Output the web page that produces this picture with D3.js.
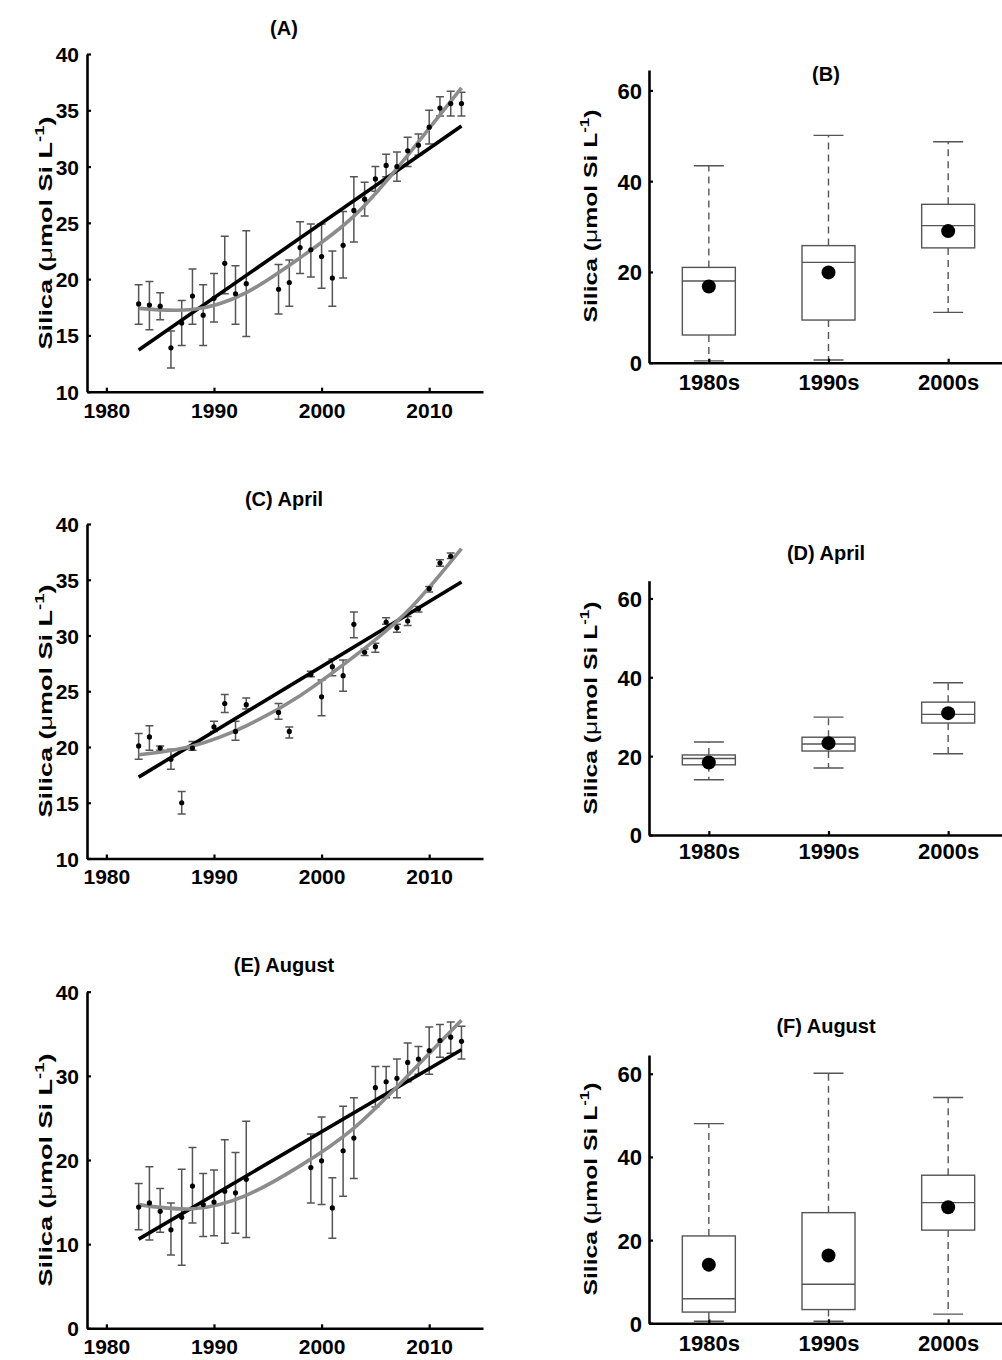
<!DOCTYPE html>
<html>
<head>
<meta charset="utf-8">
<script src="https://cdn.jsdelivr.net/npm/d3@7"></script>
<style>
  body { margin: 0; background: #fff; }
  svg { display: block; font-family: "Liberation Sans", Arial, sans-serif; }
</style>
</head>
<body>
<div id="chart"></div>
<script>
"use strict";

// ---- trend panels: yearly mean with error bars ----
var yearsA = [1983,1984,1985,1986,1987,1988,1989,1990,1991,1992,1993,1996,1997,1998,1999,2000,2001,2002,2003,2004,2005,2006,2007,2008,2009,2010,2011,2012,2013];
var meanA  = [17.8,17.7,17.6,13.9,16.1,18.5,16.8,18.3,21.4,18.7,19.6,19.1,19.7,22.8,22.6,22.0,20.1,23.0,26.1,27.1,28.9,30.1,30.0,31.4,31.9,33.5,35.2,35.6,35.6];
var upperA = [19.5,19.8,18.8,15.4,18.1,20.9,19.5,20.5,23.8,21.2,24.3,21.3,21.7,25.1,24.9,24.9,22.5,26.0,29.1,28.6,30.0,31.1,31.3,32.6,32.9,35.0,36.2,36.7,36.6];
var lowerA = [16.0,15.5,16.4,12.1,14.1,16.0,14.1,16.2,18.7,16.0,14.9,16.9,17.6,20.5,20.2,19.2,17.6,20.1,23.3,25.6,27.8,29.1,28.7,30.0,31.0,32.0,34.5,34.5,34.5];

var yearsC = [1983,1984,1985,1986,1987,1988,1990,1991,1992,1993,1996,1997,1999,2000,2001,2002,2003,2004,2005,2006,2007,2008,2009,2010,2011,2012];
var meanC  = [20.1,20.9,19.9,18.9,15.0,19.9,21.8,23.9,21.4,23.8,23.1,21.4,26.5,24.5,27.2,26.4,31.0,28.5,29.0,31.2,30.7,31.3,32.4,34.2,36.5,37.1];
var upperC = [21.2,21.9,20.1,19.8,16.0,20.5,22.3,24.7,22.3,24.4,23.9,21.8,26.8,26.0,27.9,27.8,32.1,28.8,29.3,31.6,31.0,31.7,32.6,34.4,36.8,37.4];
var lowerC = [18.9,19.7,19.7,18.0,14.0,19.7,21.4,23.1,20.6,23.4,22.5,20.8,26.3,22.8,26.4,25.0,29.8,28.2,28.5,31.0,30.3,30.9,32.1,33.9,36.2,36.9];

var yearsE = [1983,1984,1985,1986,1987,1988,1989,1990,1991,1992,1993,1999,2000,2001,2002,2003,2005,2006,2007,2008,2009,2010,2011,2012,2013];
var meanE  = [14.4,14.9,13.9,11.7,13.2,16.9,14.7,15.0,16.3,16.1,17.7,19.1,19.9,14.3,21.1,22.6,28.6,29.3,29.7,31.6,32.0,33.0,34.2,34.6,34.1];
var upperE = [17.2,19.2,16.6,14.9,18.9,21.5,18.4,18.8,22.4,20.9,24.6,23.1,25.1,17.9,26.4,27.4,31.1,31.1,32.0,33.9,33.5,35.8,36.1,36.4,35.9];
var lowerE = [11.7,10.5,11.4, 8.7, 7.5,12.5,10.9,11.0,10.1,11.3,10.8,14.9,14.7,10.7,15.7,17.8,26.3,27.4,27.4,29.3,30.2,30.2,32.2,32.7,32.0];

// fitted lines (linear: end points, quadratic: every 5 years)
var linYears  = [1983, 2013];
var linA = [13.7, 33.6];
var linC = [17.3, 34.8];
var linE = [10.6, 33.1];
var quadYears = [1983, 1988, 1993, 1998, 2003, 2008, 2013];
var quadA = [17.4, 17.3, 18.8, 21.9, 25.6, 31.0, 37.0];
var quadC = [19.3, 20.1, 21.9, 24.6, 28.1, 32.2, 37.8];
var quadE = [14.7, 14.2, 15.8, 19.3, 23.8, 30.0, 36.6];

var yearTicks = [1980, 1990, 2000, 2010];

// ---- box panels by decade ----
var decades = ["1980s", "1990s", "2000s"];
var hiB  = [43.4, 50.1, 48.7], q3B = [21.0, 25.8, 34.9], medB = [18.0, 22.1, 30.2];
var q1B  = [6.1, 9.4, 25.3],   loB = [0.4, 0.6, 11.1],   avgB = [16.8, 19.9, 29.0];
var hiD  = [23.6, 29.9, 38.6], q3D = [20.3, 24.8, 33.7], medD = [19.4, 23.1, 30.6];
var q1D  = [17.8, 21.3, 28.4], loD = [14.0, 17.0, 20.6], avgD = [18.4, 23.3, 30.9];
var hiF  = [48.0, 60.1, 54.3], q3F = [21.0, 26.6, 35.6], medF = [5.9, 9.4, 29.0];
var q1F  = [2.7, 3.3, 22.4],   loF = [0.5, 0.5, 2.2],    avgF = [14.1, 16.3, 27.9];

var W = 1002, H = 1360;
var svg = d3.select("#chart").append("svg")
            .attr("width", W).attr("height", H);

var grey = "#555";

function ylabel(g, x, cy, len) {
  var t = g.append("text")
           .attr("transform", "translate(" + x + "," + cy + ") rotate(-90)")
           .attr("text-anchor", "middle")
           .attr("font-size", 19)
           .attr("font-weight", "bold")
           .attr("textLength", len)
           .attr("lengthAdjust", "spacingAndGlyphs");
  t.append("tspan").text("Silica (");
  t.append("tspan").attr("font-weight", "normal").text("\u03bc");
  t.append("tspan").text("mol Si L");
  t.append("tspan").attr("font-size", 13).attr("dy", -8).text("-1");
  t.append("tspan").attr("dy", 8).text(")");
}

function title(x, y, s) {
  svg.append("text")
     .attr("x", x).attr("y", y)
     .attr("text-anchor", "middle")
     .attr("font-size", 20)
     .attr("font-weight", "bold")
     .text(s);
}

function styleAxis(g, fs) {
  g.select(".domain").attr("stroke", "#000").attr("stroke-width", 2.6);
  g.selectAll(".tick line").attr("stroke", "#000").attr("stroke-width", 2.2);
  g.selectAll(".tick text").attr("font-size", fs).attr("font-weight", "bold")
   .attr("fill", "#000").attr("font-family", "Liberation Sans, Arial, sans-serif");
}

function trendPanel(p) {
  var x = d3.scaleLinear().domain([1978.2, 2015]).range([87, 483]);
  var y = d3.scaleLinear().domain(p.ydom).range([p.bottom, p.top]);
  var g = svg.append("g");

  var xa = g.append("g").attr("transform", "translate(0," + p.bottom + ")")
            .call(d3.axisBottom(x).tickValues(yearTicks).tickFormat(d3.format("d"))
                    .tickSizeInner(-4).tickSizeOuter(0).tickPadding(11));
  styleAxis(xa, 21);
  var ya = g.append("g").attr("transform", "translate(87,0)")
            .call(d3.axisLeft(y).tickValues(p.yticks)
                    .tickSizeInner(-4).tickSizeOuter(0).tickPadding(8));
  styleAxis(ya, 21);
  ya.selectAll(".tick text").attr("dy", "0.36em");

  var rows = p.years.map(function(d, i){
    return {t: d, m: p.mean[i], hi: p.upper[i], lo: p.lower[i]};
  });

  var bars = g.append("g").attr("stroke", grey).attr("stroke-width", 1.5).attr("fill", "none");
  bars.selectAll("path").data(rows).enter().append("path")
      .attr("d", function(d){
        var cx = x(d.t), yh = y(d.hi), yl = y(d.lo);
        return "M" + cx + "," + yh + "V" + yl +
               "M" + (cx - 4) + "," + yh + "H" + (cx + 4) +
               "M" + (cx - 4) + "," + yl + "H" + (cx + 4);
      });

  var line = d3.line().x(function(d){ return x(d[0]); }).y(function(d){ return y(d[1]); });

  g.append("path")
   .datum(linYears.map(function(t, i){ return [t, p.lin[i]]; }))
   .attr("d", line)
   .attr("fill", "none").attr("stroke", "#000").attr("stroke-width", 3.6);

  g.append("path")
   .datum(quadYears.map(function(t, i){ return [t, p.quad[i]]; }))
   .attr("d", line.curve(d3.curveNatural))
   .attr("fill", "none").attr("stroke", "#8c8c8c").attr("stroke-width", 3.6);

  g.append("g").selectAll("circle").data(rows).enter().append("circle")
   .attr("cx", function(d){ return x(d.t); })
   .attr("cy", function(d){ return y(d.m); })
   .attr("r", 2.6).attr("fill", "#000");

  ylabel(g, 52, p.labelY, 233);
  title(284, p.titleY, p.title);
}

function boxPanel(p) {
  var x = d3.scaleLinear().domain([0.5, 3.5]).range([649, 1008]);
  var y = d3.scaleLinear().domain([0, 64.5]).range([p.bottom, p.top]);
  var g = svg.append("g");
  var bw = 53, cw = 30;

  var rows = decades.map(function(d, i){
    return {k: i + 1, hi: p.hi[i], q3: p.q3[i], med: p.med[i], q1: p.q1[i], lo: p.lo[i], avg: p.avg[i]};
  });

  var b = g.append("g").selectAll("g").data(rows).enter().append("g")
           .attr("stroke", grey).attr("stroke-width", 1.4).attr("fill", "none");
  b.append("path")
   .attr("stroke-dasharray", "7,5")
   .attr("d", function(d){
     var cx = x(d.k);
     return "M" + cx + "," + y(d.q3) + "V" + y(d.hi) + "M" + cx + "," + y(d.q1) + "V" + y(d.lo);
   });
  b.append("path")
   .attr("d", function(d){
     var cx = x(d.k);
     return "M" + (cx - cw / 2) + "," + y(d.hi) + "H" + (cx + cw / 2) +
            "M" + (cx - cw / 2) + "," + y(d.lo) + "H" + (cx + cw / 2) +
            "M" + (cx - bw / 2) + "," + y(d.med) + "H" + (cx + bw / 2);
   });
  b.append("rect")
   .attr("x", function(d){ return x(d.k) - bw / 2; })
   .attr("y", function(d){ return y(d.q3); })
   .attr("width", bw)
   .attr("height", function(d){ return y(d.q1) - y(d.q3); });
  b.append("circle")
   .attr("cx", function(d){ return x(d.k); })
   .attr("cy", function(d){ return y(d.avg); })
   .attr("r", 7).attr("fill", "#000").attr("stroke", "none");

  var xa = g.append("g").attr("transform", "translate(0," + p.bottom + ")")
            .call(d3.axisBottom(x).tickValues([1, 2, 3])
                    .tickFormat(function(d){ return decades[d - 1]; })
                    .tickSizeInner(-4).tickSizeOuter(0).tickPadding(p.xpad));
  styleAxis(xa, 22);
  var ya = g.append("g").attr("transform", "translate(649,0)")
            .call(d3.axisLeft(y).tickValues([0, 20, 40, 60])
                    .tickSizeInner(-4).tickSizeOuter(0).tickPadding(7));
  styleAxis(ya, 22);
  ya.selectAll(".tick text").attr("dy", "0.36em");

  ylabel(g, 597, p.labelY, 213);
  title(826, p.titleY, p.title);
}

trendPanel({years: yearsA, mean: meanA, upper: upperA, lower: lowerA, lin: linA, quad: quadA,
            ydom: [10, 40], yticks: [10, 15, 20, 25, 30, 35, 40],
            top: 54, bottom: 391.7, labelY: 233, titleY: 35, title: "(A)"});
trendPanel({years: yearsC, mean: meanC, upper: upperC, lower: lowerC, lin: linC, quad: quadC,
            ydom: [10, 40], yticks: [10, 15, 20, 25, 30, 35, 40],
            top: 524, bottom: 858.5, labelY: 701, titleY: 506, title: "(C) April"});
trendPanel({years: yearsE, mean: meanE, upper: upperE, lower: lowerE, lin: linE, quad: quadE,
            ydom: [0, 40], yticks: [0, 10, 20, 30, 40],
            top: 991.7, bottom: 1328.3, labelY: 1170, titleY: 972, title: "(E) August"});

boxPanel({hi: hiB, q3: q3B, med: medB, q1: q1B, lo: loB, avg: avgB,
          top: 70, bottom: 362.7, xpad: 12, labelY: 216, titleY: 81, title: "(B)"});
boxPanel({hi: hiD, q3: q3D, med: medD, q1: q1D, lo: loD, avg: avgD,
          top: 580.7, bottom: 835, xpad: 8, labelY: 708, titleY: 560, title: "(D) April"});
boxPanel({hi: hiF, q3: q3F, med: medF, q1: q1F, lo: loF, avg: avgF,
          top: 1055, bottom: 1323.3, xpad: 12, labelY: 1189, titleY: 1033, title: "(F) August"});
</script>
</body>
</html>
